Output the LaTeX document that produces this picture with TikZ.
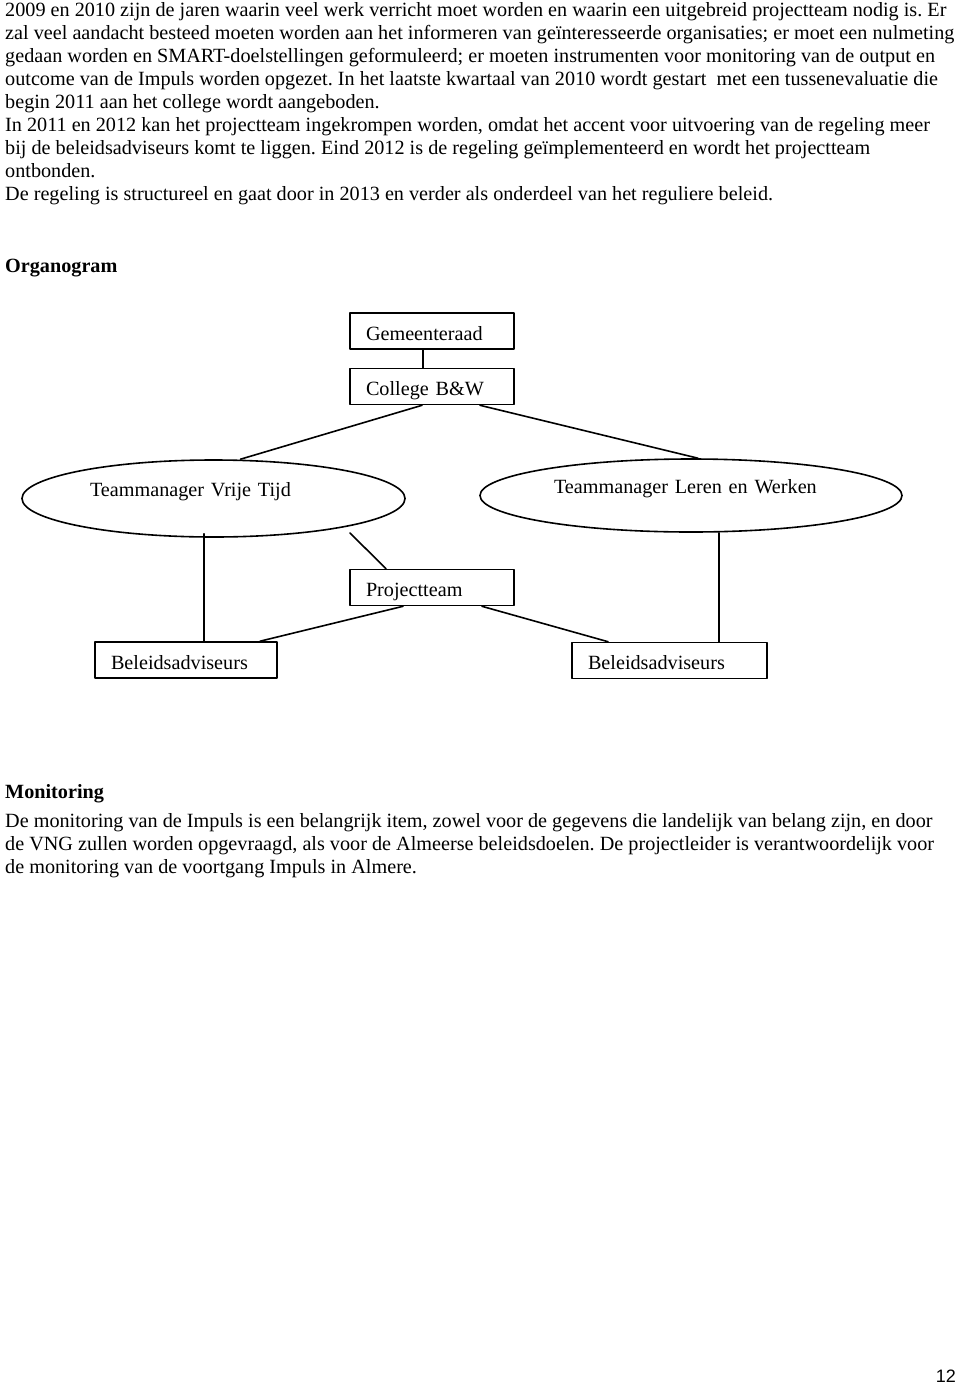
\documentclass[tikz,border=0pt]{standalone}
\usepackage{fontspec}
\setmainfont{Liberation Serif}
\newfontfamily\pagefont{Liberation Sans}
\usetikzlibrary{shapes.geometric}
\frenchspacing

\begin{document}
\begin{tikzpicture}[x=1pt,y=-1pt,line join=round,line cap=round,
		txt/.style={anchor=base west,inner sep=0pt,font=\fontsize{20.2}{23}\selectfont},
		orgbox/.style={draw,rectangle,line width=1.6pt,text width=#1,
			inner xsep=16pt,inner ysep=7pt,text height=20pt,text depth=2pt,
			font=\fontsize{20.2}{23}\selectfont},
		orgell/.style={draw,ellipse,line width=1.6pt,inner sep=0pt,
			text height=6pt,text depth=10pt,font=\fontsize{20.2}{23}\selectfont},
		conn/.style={line width=1.6pt}]
	\useasboundingbox (0,0) rectangle (960,1384);
	% tekst boven het organogram
	\foreach \txt [count=\k from 0] in {
		{2009 en 2010 zijn de jaren waarin veel werk verricht moet worden en waarin een uitgebreid projectteam nodig is. Er},
		{zal veel aandacht besteed moeten worden aan het informeren van geïnteresseerde organisaties; er moet een nulmeting},
		{gedaan worden en SMART-doelstellingen geformuleerd; er moeten instrumenten voor monitoring van de output en},
		{outcome van de Impuls worden opgezet. In het laatste kwartaal van 2010 wordt gestart~ met een tussenevaluatie die},
		{begin 2011 aan het college wordt aangeboden.},
		{In 2011 en 2012 kan het projectteam ingekrompen worden, omdat het accent voor uitvoering van de regeling meer},
		{bij de beleidsadviseurs komt te liggen. Eind 2012 is de regeling geïmplementeerd en wordt het projectteam},
		{ontbonden.},
		{De regeling is structureel en gaat door in 2013 en verder als onderdeel van het reguliere beleid.}}{
		\node[txt] (par\k) at (5,{16.5+23*\k}) {\txt};
	}
	\node[txt] (orghead) at (5,272) {\bfseries Organogram};
	% organogram
	\node[orgbox=132pt] (gem) at (432,331) {Gemeenteraad};
	\node[orgbox=132pt] (coll) at (432,386.5) {College B\&W};
	\node[orgell,minimum width=383pt,minimum height=77pt,text width=247pt] (tmv) at (213.5,498.5) {Teammanager Vrije Tijd};
	\node[orgell,minimum width=422pt,minimum height=73pt,text width=274pt] (tml) at (691,495.5) {Teammanager Leren en Werken};
	\node[orgbox=132pt] (proj) at (432,587.5) {Projectteam};
	\node[orgbox=150pt] (bl1) at (186,660) {Beleidsadviseurs};
	\node[orgbox=163pt] (bl2) at (669.5,660.5) {Beleidsadviseurs};
	\draw[conn] ([xshift=-9pt]gem.south) -- ([xshift=-9pt]coll.north);
	\draw[conn] ([xshift=-10pt]coll.south) -- ([xshift=27pt]tmv.north);
	\draw[conn] ([xshift=48pt]coll.south) -- ([xshift=7pt]tml.north);
	\draw[conn] ([xshift=-9.5pt,yshift=4pt]tmv.south) -- ([xshift=18pt]bl1.north);
	\draw[conn] ([shift={(136.5,34.5)}]tmv.center) -- ([xshift=-46pt]proj.north);
	\draw[conn] ([xshift=-29pt]proj.south) -- ([xshift=74pt]bl1.north);
	\draw[conn] ([xshift=50pt]proj.south) -- ([xshift=-61.5pt]bl2.north);
	\draw[conn] ([xshift=28pt]tml.south) -- ([xshift=49.5pt]bl2.north);
	% monitoring
	\node[txt] (monhead) at (5,798) {\bfseries Monitoring};
	\foreach \txt [count=\k from 0] in {
		{De monitoring van de Impuls is een belangrijk item, zowel voor de gegevens die landelijk van belang zijn, en door},
		{de VNG zullen worden opgevraagd, als voor de Almeerse beleidsdoelen. De projectleider is verantwoordelijk voor},
		{de monitoring van de voortgang Impuls in Almere.}}{
		\node[txt] (mon\k) at (5,{827+23*\k}) {\txt};
	}
	\node[anchor=base east,inner sep=0pt,font=\pagefont\fontsize{18}{20}\selectfont] (pagenr) at (956,1382) {12};
\end{tikzpicture}
\end{document}
